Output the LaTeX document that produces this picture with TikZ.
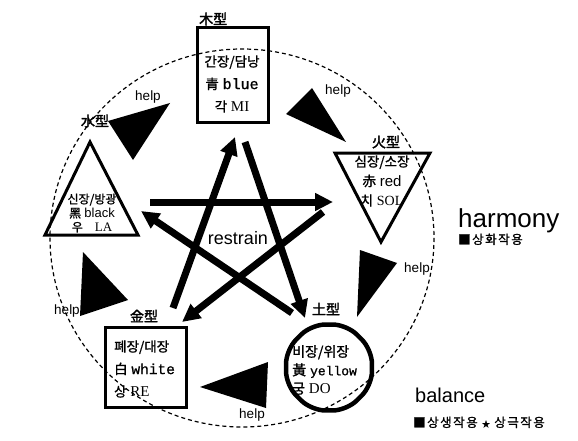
\documentclass[tikz,border=0pt]{standalone}
\usepackage{fontspec}
\setmainfont{Liberation Sans}
\newfontfamily\kr[FakeBold=1.2]{Noto Sans CJK KR}
\newfontfamily\krb[FakeBold=2]{Noto Sans CJK KR}
\newfontfamily\krwide[FakeBold=1.2,LetterSpace=12]{Noto Sans CJK KR}
\newfontfamily\mono[FakeBold=1]{Liberation Mono}
\newfontfamily\rom{Liberation Serif}
\usetikzlibrary{
    arrows.meta,
    shapes.geometric
}

\begin{document}
\begin{tikzpicture}[
        x=1pt, y=-1pt,
        box/.style={
            draw,
            line width=3pt,
            inner sep=0pt
        },
        ring/.style={
            regular polygon,
            regular polygon sides=8,
            rounded corners=14pt,
            draw,
            line width=4.5pt,
            minimum size=93pt,
            inner sep=0pt
        },
        body/.style={
            inner sep=0pt
        },
        tag/.style={
            font=\krb\fontsize{14}{16}\selectfont,
            inner sep=0pt
        },
        restrain/.style={
            -{Triangle[length=18pt,width=17pt]},
            line width=7pt
        },
        wedge/.style={
            fill=black
        },
        helpnote/.style={
            font=\fontsize{13.5}{15}\selectfont,
            inner sep=0pt
        },
        orbit/.style={
            dash pattern=on 4pt off 3pt,
            line width=1.2pt
        }
    ]

    \useasboundingbox[fill=white] (0,0) rectangle (578,441);

    % the sheng cycle
    \draw[orbit] (242,238) ellipse [x radius=192, y radius=189];

    % five elements
    \node[box, minimum width=71pt, minimum height=95pt] (wood) at (232.5,75.5) {};
    \node[tag, anchor=west] (woodtag) at (199,19) {木型};
    \node[body, align=center, font=\fontsize{13.5}{22.5}\selectfont] (woodtext) at (232,84)
        {{\kr 간장/담낭}\\
         {\kr 青} {\mono\fontsize{15}{22.5}\selectfont blue}\\
         {\kr 각} {\rom\fontsize{15}{22.5}\selectfont MI}};

    \draw[line width=3pt, line join=miter] (335,153) -- (430,153) -- (381,242) -- cycle;
    \node[tag] (firetag) at (386,142) {火型};
    \node[body, align=center, font=\fontsize{13.5}{19.5}\selectfont] (firetext) at (382,181)
        {{\kr 심장/소장}\\
         {\kr 赤} {\fontsize{15}{19.5}\selectfont red}\\
         {\kr 치} {\rom\fontsize{14}{19.5}\selectfont SOL}};

    \draw[line width=3pt, line join=miter] (45,235) -- (90,142) -- (138,235) -- cycle;
    \node[tag] (watertag) at (95,121) {水型};
    \node[body, align=center, font=\fontsize{12}{14}\selectfont] (watertext) at (92,213)
        {{\kr 신장/방광}\\
         {\kr 黑} {\fontsize{13}{14}\selectfont black}\\
         {\kr 우}\quad{\rom\fontsize{13}{14}\selectfont LA}};

    \node[box, line width=3.5pt, minimum width=81pt, minimum height=80pt] (metal) at (146,367.5) {};
    \node[tag] (metaltag) at (144,316) {金型};
    \node[body, align=left, anchor=west, font=\fontsize{13.5}{22.5}\selectfont] (metaltext) at (114,369)
        {{\kr 폐장/대장}\\
         {\kr 白} {\mono\fontsize{14.5}{22.5}\selectfont white}\\
         {\kr 상} {\rom\fontsize{15}{22.5}\selectfont RE}};

    \node[ring] (earth) at (329,367.5) {};
    \node[tag] (earthtag) at (326,309) {土型};
    \node[body, align=left, anchor=west, font=\fontsize{14}{18.5}\selectfont] (earthtext) at (292,370)
        {{\kr 비장/위장}\\
         {\kr 黃} {\mono\fontsize{13}{18.5}\selectfont yellow}\\
         {\kr 궁} {\rom\fontsize{15}{18.5}\selectfont DO}};

    % ke cycle (star)
    \coordinate (waterE) at (150,202);
    \coordinate (fireW)  at (333,202);
    \coordinate (fireSW) at (323,212);
    \coordinate (metalN) at (182,322);
    \coordinate (metalNE) at (173,308);
    \coordinate (woodS)  at (235,137);
    \coordinate (woodSE) at (245,142);
    \coordinate (earthNW) at (305,318);
    \coordinate (earthW) at (292,313);
    \coordinate (waterSE) at (141,211);

    \draw[restrain] (waterE) -- (fireW);
    \draw[restrain] (fireSW) -- (metalN);
    \draw[restrain] (metalNE) -- (woodS);
    \draw[restrain] (woodSE) -- (earthNW);
    \draw[restrain] (earthW) -- (waterSE);

    \node[font=\fontsize{18}{20}\selectfont, inner sep=0pt] (restrain) at (238,238) {restrain};

    % help wedges
    \fill[wedge] (108,121) -- (170,103) -- (133,160) -- cycle;
    \fill[wedge] (286,114) -- (312,88) -- (346,142) -- cycle;
    \fill[wedge] (360,250) -- (397,263) -- (357,317) -- cycle;
    \fill[wedge] (200,387) -- (268,362) -- (266,408) -- cycle;
    \fill[wedge] (83,252) -- (80,316) -- (128,300) -- cycle;

    \node[helpnote] (help1) at (148,97) {help};
    \node[helpnote] (help2) at (338,91) {help};
    \node[helpnote] (help3) at (417,269) {help};
    \node[helpnote] (help4) at (252,415) {help};
    \node[helpnote] (help5) at (67,311) {help};

    % legend
    \node[anchor=base west, inner sep=0pt, font=\fontsize{26}{30}\selectfont] (harmony) at (458,227) {harmony};
    \node[anchor=base west, inner sep=0pt, font=\krwide\fontsize{12.5}{14}\selectfont] (harmonynote) at (458,244) {■상화작용};
    \node[anchor=base west, inner sep=0pt, font=\fontsize{20}{24}\selectfont] (balance) at (415,402) {balance};
    \node[anchor=base west, inner sep=0pt, font=\krwide\fontsize{12.5}{14}\selectfont] (balancenote) at (413,427)
        {■상생작용 {\fontsize{8}{10}\selectfont ★} 상극작용};

\end{tikzpicture}
\end{document}
